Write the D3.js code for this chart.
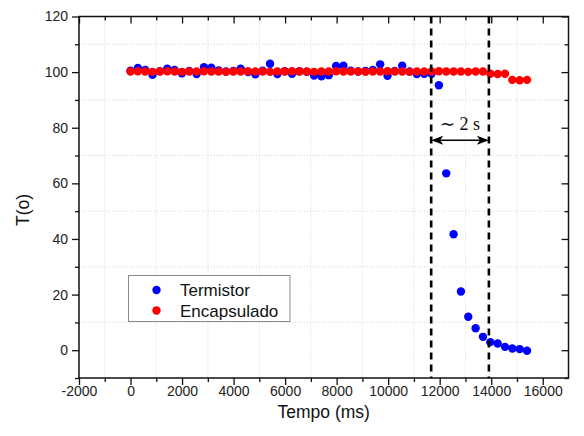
<!DOCTYPE html>
<html>
<head>
<meta charset="utf-8">
<script src="https://cdn.jsdelivr.net/npm/d3@7"></script>
<style>
  body { margin: 0; background: #fff; }
  svg { font-family: "Liberation Sans", Arial, sans-serif; }
</style>
</head>
<body>
<svg width="584" height="436"></svg>
<script>
// sample times (ms), shared by both sensors
const times = [0, 285, 570, 855, 1140, 1425, 1710, 1995, 2280, 2565, 2850, 3135, 3420, 3705,
  3990, 4275, 4560, 4845, 5130, 5415, 5700, 5985, 6270, 6555, 6840, 7125, 7410, 7695, 7980,
  8265, 8550, 8835, 9120, 9405, 9690, 9975, 10260, 10545, 10830, 11115, 11400, 11685, 11970,
  12255, 12540, 12825, 13110, 13395, 13680, 13965, 14250, 14535, 14820, 15105, 15390];

const termistor = [100.5, 101.5, 100.8, 99.0, 100.3, 101.2, 100.8, 99.6, 100.4, 99.3,
  101.8, 101.6, 100.6, 100.2, 100.4, 101.2, 100.0, 99.2, 100.5, 103.0,
  99.3, 100.3, 99.4, 100.3, 100.1, 98.8, 98.5, 98.9, 102.2, 102.3,
  100.5, 100.2, 100.4, 100.8, 102.8, 98.7, 100.4, 102.3, 100.2, 99.3,
  99.4, 99.4, 95.3, 63.6, 41.7, 21.1, 12.0, 7.9, 4.8, 2.9,
  2.4, 1.2, 0.6, 0.4, -0.2];

const encapsulado = [100.2, 100.3, 100.2, 100.1, 100.2, 100.3, 100.2, 100.1, 100.2, 100.2,
  100.3, 100.2, 100.2, 100.1, 100.2, 100.2, 100.3, 100.2, 100.2, 100.1,
  100.2, 100.2, 100.3, 100.2, 100.2, 100.1, 100.2, 100.2, 100.3, 100.2,
  100.2, 100.2, 100.1, 100.2, 100.2, 100.3, 100.2, 100.2, 100.1, 100.2,
  100.2, 100.2, 100.3, 100.2, 100.2, 100.2, 100.1, 100.2, 100.2, 99.4,
  99.3, 99.4, 97.2, 97.1, 97.2];

const seriesLabels = ["Termistor", "Encapsulado"];
const seriesColors = ["#0000ff", "#ff0000"];

const xTicks = [-2000, 0, 2000, 4000, 6000, 8000, 10000, 12000, 14000, 16000];
const xMinor = [-1000, 1000, 3000, 5000, 7000, 9000, 11000, 13000, 15000];
const yTicks = [0, 20, 40, 60, 80, 100, 120];
const yMinor = [-10, 10, 30, 50, 70, 90, 110];

// the two vertical marks and the "~ 2 s" interval between them
const markTimes = [11670, 13910];
const arrowLevel = 75.5;
const arrowText = "\u223C 2 s";

drawPlot();

function drawPlot() {
  var svg = d3.select("svg"),
    margin = { top: 16.5, right: 15.5, bottom: 58, left: 79 },
    width = +svg.attr("width") - margin.left - margin.right,
    height = +svg.attr("height") - margin.top - margin.bottom;

  var g = svg
    .append("g")
    .attr("transform", "translate(" + margin.left + "," + margin.top + ")");

  var xScale = d3.scaleLinear().domain([-2000, 17000]).range([0, width]);
  var yScale = d3.scaleLinear().domain([-10, 120]).range([height, 0]);

  // faint dotted grid on the minor positions
  g.append("g")
    .selectAll("line")
    .data(xMinor)
    .enter()
    .append("line")
    .attr("x1", d => xScale(d))
    .attr("x2", d => xScale(d))
    .attr("y1", 0)
    .attr("y2", height)
    .attr("stroke", "#d4d4d4")
    .attr("stroke-dasharray", "1,2");
  g.append("g")
    .selectAll("line")
    .data(yMinor.filter(d => d > -10))
    .enter()
    .append("line")
    .attr("x1", 0)
    .attr("x2", width)
    .attr("y1", d => yScale(d))
    .attr("y2", d => yScale(d))
    .attr("stroke", "#d4d4d4")
    .attr("stroke-dasharray", "1,2");

  // axes: outward ticks left/bottom, inward ticks top/right
  function styleAxis(sel) {
    sel.select(".domain").remove();
    sel.selectAll(".tick line").attr("stroke", "#111").attr("stroke-width", 1.3);
    sel.selectAll(".tick text").attr("fill", "#222").style("font-size", "14px");
  }

  g.append("g")
    .attr("transform", "translate(0," + height + ")")
    .call(d3.axisBottom(xScale).tickValues(xTicks).tickSize(7).tickPadding(1).tickFormat(d => String(d)))
    .call(styleAxis);
  g.append("g")
    .attr("transform", "translate(0," + height + ")")
    .call(d3.axisBottom(xScale).tickValues(xMinor).tickSize(4).tickFormat(""))
    .call(styleAxis);
  g.append("g")
    .call(d3.axisLeft(yScale).tickValues(yTicks).tickSize(7).tickPadding(4))
    .call(styleAxis);
  g.append("g")
    .call(d3.axisLeft(yScale).tickValues(yMinor).tickSize(4).tickFormat(""))
    .call(styleAxis);

  g.append("g")
    .attr("transform", "translate(" + width + ",0)")
    .call(d3.axisRight(yScale).tickValues(yTicks).tickSize(-7).tickFormat(""))
    .call(styleAxis);
  g.append("g")
    .attr("transform", "translate(" + width + ",0)")
    .call(d3.axisRight(yScale).tickValues(yMinor).tickSize(-4).tickFormat(""))
    .call(styleAxis);
  g.append("g")
    .call(d3.axisTop(xScale).tickValues(xTicks).tickSize(-7).tickFormat(""))
    .call(styleAxis);
  g.append("g")
    .call(d3.axisTop(xScale).tickValues(xMinor).tickSize(-4).tickFormat(""))
    .call(styleAxis);

  g.append("rect")
    .attr("width", width)
    .attr("height", height)
    .attr("fill", "none")
    .attr("stroke", "#111")
    .attr("stroke-width", 1.5);

  // points: termistor first, encapsulado on top
  [termistor, encapsulado].forEach((vals, index) => {
    g.append("g")
      .selectAll("circle")
      .data(vals)
      .enter()
      .append("circle")
      .attr("cx", (d, i) => xScale(times[i]))
      .attr("cy", d => yScale(d))
      .attr("r", 4.2)
      .attr("fill", seriesColors[index]);
  });

  // dashed markers
  g.append("g")
    .selectAll("line")
    .data(markTimes)
    .enter()
    .append("line")
    .attr("x1", d => xScale(d))
    .attr("x2", d => xScale(d))
    .attr("y1", 0)
    .attr("y2", height)
    .attr("stroke", "#000")
    .attr("stroke-width", 2.6)
    .attr("stroke-dasharray", "7,5");

  // double arrow
  var ax0 = xScale(markTimes[0]),
    ax1 = xScale(markTimes[1]),
    ay = yScale(arrowLevel);
  g.append("line")
    .attr("x1", ax0 + 8)
    .attr("x2", ax1 - 8)
    .attr("y1", ay)
    .attr("y2", ay)
    .attr("stroke", "#000")
    .attr("stroke-width", 1.4);
  g.append("path")
    .attr("d", `M${ax0},${ay} l12,-4.5 l-3,4.5 l3,4.5 Z M${ax1},${ay} l-12,-4.5 l3,4.5 l-3,4.5 Z`)
    .attr("fill", "#000");
  g.append("text")
    .attr("x", (ax0 + ax1) / 2)
    .attr("y", ay - 10)
    .attr("text-anchor", "middle")
    .style("font-family", "'Liberation Serif', 'Times New Roman', serif")
    .style("font-size", "18px")
    .attr("fill", "#111")
    .text(arrowText);

  // axis titles
  svg.append("text")
    .attr("x", margin.left + width / 2)
    .attr("y", 418)
    .attr("text-anchor", "middle")
    .style("font-size", "17.5px")
    .attr("fill", "#111")
    .text("Tempo (ms)");
  svg.append("text")
    .attr("transform", "translate(29,210) rotate(-90)")
    .attr("text-anchor", "middle")
    .style("font-size", "17.5px")
    .attr("fill", "#111")
    .text("T(o)");

  // legend
  var lg = svg.append("g").attr("transform", "translate(128.5,275.5)");
  lg.append("rect")
    .attr("width", 161.5)
    .attr("height", 46)
    .attr("fill", "#fff")
    .attr("stroke", "#8a8a8a");
  var items = lg
    .selectAll(".legendItem")
    .data(seriesLabels)
    .enter()
    .append("g")
    .attr("class", "legendItem")
    .attr("transform", (d, i) => `translate(0,${14.5 + i * 20.5})`);
  items.append("circle")
    .attr("cx", 28)
    .attr("r", 4.2)
    .attr("fill", (d, i) => seriesColors[i]);
  items.append("text")
    .attr("x", 51.5)
    .attr("y", 6)
    .style("font-size", "17px")
    .attr("fill", "#111")
    .text(d => d);
}
</script>
</body>
</html>
